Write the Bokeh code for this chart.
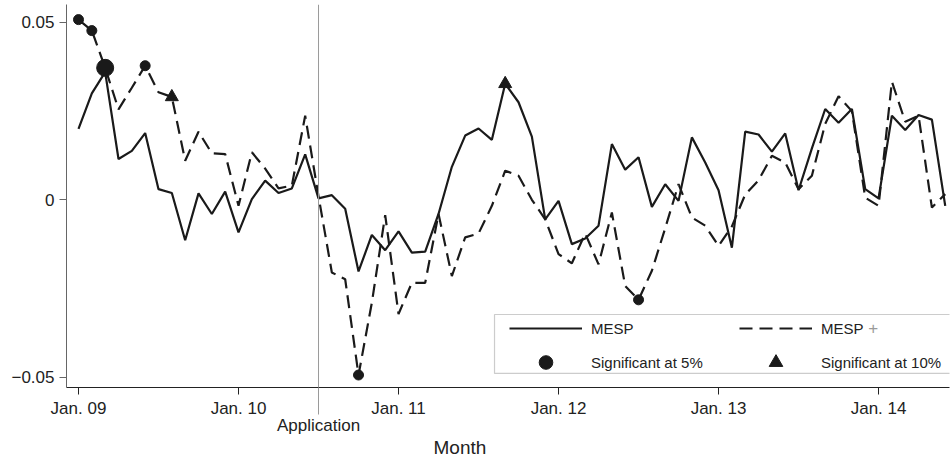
from bokeh.plotting import figure
from bokeh.models import (Range1d, FixedTicker, LinearAxis, Span, Legend, LegendItem,
                          Label, ColumnDataSource, BoxAnnotation, Title)
from bokeh.embed import file_html
from bokeh.resources import INLINE

# ---------------- data (month index 0 = Jan. 2009) ----------------
months = list(range(66))
mesp = [0.020, 0.030, 0.036, 0.0115, 0.0138, 0.0188, 0.003, 0.0019, -0.0114, 0.0018,
        -0.004, 0.0023, -0.0092, 0.0002, 0.0054, 0.0019, 0.0032, 0.0128, 0.0004, 0.0013,
        -0.0025, -0.0202, -0.0099, -0.0142, -0.0089, -0.0149, -0.0146, -0.004, 0.0093, 0.0181,
        0.0201, 0.0169, 0.0327, 0.0275, 0.0178, -0.0055, -0.0003, -0.0125, -0.0109, -0.0073,
        0.0157, 0.0085, 0.012, -0.002, 0.0044, -0.0003, 0.0176, 0.0105, 0.0027, -0.0135,
        0.0192, 0.0184, 0.0136, 0.0187, 0.0027, 0.0145, 0.0256, 0.0217, 0.0256, 0.003,
        0.0004, 0.0237, 0.0197, 0.0239, 0.0226, -0.0017]
mesp_plus = [0.0508, 0.0477, 0.0372, 0.0255, 0.0316, 0.0378, 0.0303, 0.029, 0.011, 0.0192,
             0.0131, 0.0129, -0.0017, 0.0134, 0.0088, 0.0032, 0.004, 0.0237, 0.001, -0.0205,
             -0.0224, -0.0494, -0.029, -0.0043, -0.0322, -0.0234, -0.0234, -0.004, -0.0215, -0.0106,
             -0.0095, -0.0017, 0.0082, 0.0068, 0.000, -0.0055, -0.0153, -0.0179, -0.0095, -0.0182,
             -0.0036, -0.0243, -0.0282, -0.020, -0.008, 0.0044, -0.005, -0.0073, -0.013, -0.0075,
             0.0015, 0.0055, 0.0124, 0.0105, 0.003, 0.0068, 0.0214, 0.0292, 0.025, 0.0006,
             -0.0017, 0.0333, 0.022, 0.0237, -0.0022, 0.0016]
sig5_plus_months = [0, 1, 2, 5, 21, 42]      # MESP+ significant at 5%
sig10_plus_months = [7]                      # MESP+ significant at 10%
sig10_mesp_months = [32]                     # MESP significant at 10%
x_tick_months = [0, 12, 24, 36, 48, 60]
x_tick_labels = ["Jan. 09", "Jan. 10", "Jan. 11", "Jan. 12", "Jan. 13", "Jan. 14"]
application_month = 18
application_label = "Application"
y_ticks = [-0.05, 0.0, 0.05]
y_tick_labels = ["\u22120.05", "0", "0.05"]

# ---------------- style ----------------
FONT = "Liberation Sans"
INK = "#1a1a1a"
big_dot = {2: 17}          # marker size overrides (px)
DOT = 10

p = figure(width=950, height=458, x_range=Range1d(-0.9, 65.32),
           y_range=Range1d(-0.05292, 0.05506), output_backend="svg",
           toolbar_location=None, min_border_left=66, min_border_right=1,
           min_border_top=4, min_border_bottom=71)
p.outline_line_color = None
p.grid.visible = False
p.background_fill_color = "white"

p.add_layout(Span(location=application_month, dimension="height",
                  line_color="#9a9a9a", line_width=1))

solid = p.line(months, mesp, line_color=INK, line_width=2.2)
dashed = p.line(months, mesp_plus, line_color=INK, line_width=2.2, line_dash="13 7")

s5 = ColumnDataSource(dict(x=sig5_plus_months,
                           y=[mesp_plus[m] for m in sig5_plus_months],
                           s=[big_dot.get(m, DOT) for m in sig5_plus_months]))
dots = p.scatter("x", "y", size="s", marker="circle", source=s5,
                 fill_color=INK, line_color=INK)
tri_x = sig10_plus_months + sig10_mesp_months
tri_y = [mesp_plus[m] for m in sig10_plus_months] + [mesp[m] for m in sig10_mesp_months]
tris = p.scatter(tri_x, tri_y, marker="triangle", size=13, fill_color=INK, line_color=INK)

# axes
yax = p.yaxis[0]
yax.ticker = FixedTicker(ticks=y_ticks)
yax.major_label_overrides = {t: l for t, l in zip(y_ticks, y_tick_labels)}
yax.minor_tick_line_color = None
yax.major_tick_out = 7
yax.major_tick_in = 0
yax.axis_line_color = "#666666"
yax.major_tick_line_color = "#666666"
yax.major_label_standoff = 5
yax.major_label_text_font = FONT
yax.major_label_text_font_size = "17px"
yax.major_label_text_color = "#222222"

xax = p.xaxis[0]
xax.ticker = FixedTicker(ticks=x_tick_months)
xax.major_label_overrides = {t: l for t, l in zip(x_tick_months, x_tick_labels)}
xax.minor_tick_line_color = None
xax.major_tick_out = 7
xax.major_tick_in = 0
xax.axis_line_color = "#222222"
xax.major_tick_line_color = "#222222"
xax.major_label_standoff = 4
xax.major_label_text_font = FONT
xax.major_label_text_font_size = "17px"
xax.major_label_text_color = "#222222"

app_ax = LinearAxis(ticker=FixedTicker(ticks=[application_month]),
                    major_label_overrides={application_month: application_label},
                    axis_line_color=None, minor_tick_line_color=None,
                    major_tick_line_color="#9a9a9a", major_tick_in=33, major_tick_out=-6,
                    major_label_standoff=-5, major_label_text_font=FONT,
                    major_label_text_font_size="17px", major_label_text_color="#222222")
p.add_layout(app_ax, "below")

p.add_layout(Title(text="Month", align="left", offset=367, standoff=-5,
                   text_font=FONT, text_font_size="19px", text_font_style="normal",
                   text_color="#222222"), "below")

# legend
p.add_layout(BoxAnnotation(left=31.2, right=66, top=-0.03234, bottom=-0.04895,
                           fill_color="white", fill_alpha=1.0,
                           line_color="#555555", line_width=1.2))
legend = Legend(items=[LegendItem(label="MESP", renderers=[solid]),
                       LegendItem(label="MESP", renderers=[dashed]),
                       LegendItem(label="Significant at 5%", renderers=[dots]),
                       LegendItem(label="Significant at 10%", renderers=[tris])],
                location=(443, 8), orientation="horizontal", ncols=2,
                padding=0, margin=0, spacing=-3, glyph_width=73, glyph_height=34,
                label_height=34, label_width=148, label_standoff=9,
                border_line_color=None, background_fill_alpha=0,
                label_text_font=FONT, label_text_font_size="15px",
                label_text_color="#222222")
p.add_layout(legend, "center")
p.add_layout(Label(x=59.6, y=-0.03628, text="+", text_align="center", text_baseline="middle",
                   text_font=FONT, text_font_size="17px", text_color="#9a9a9a"))

open("out.html", "w").write(file_html(p, INLINE))
